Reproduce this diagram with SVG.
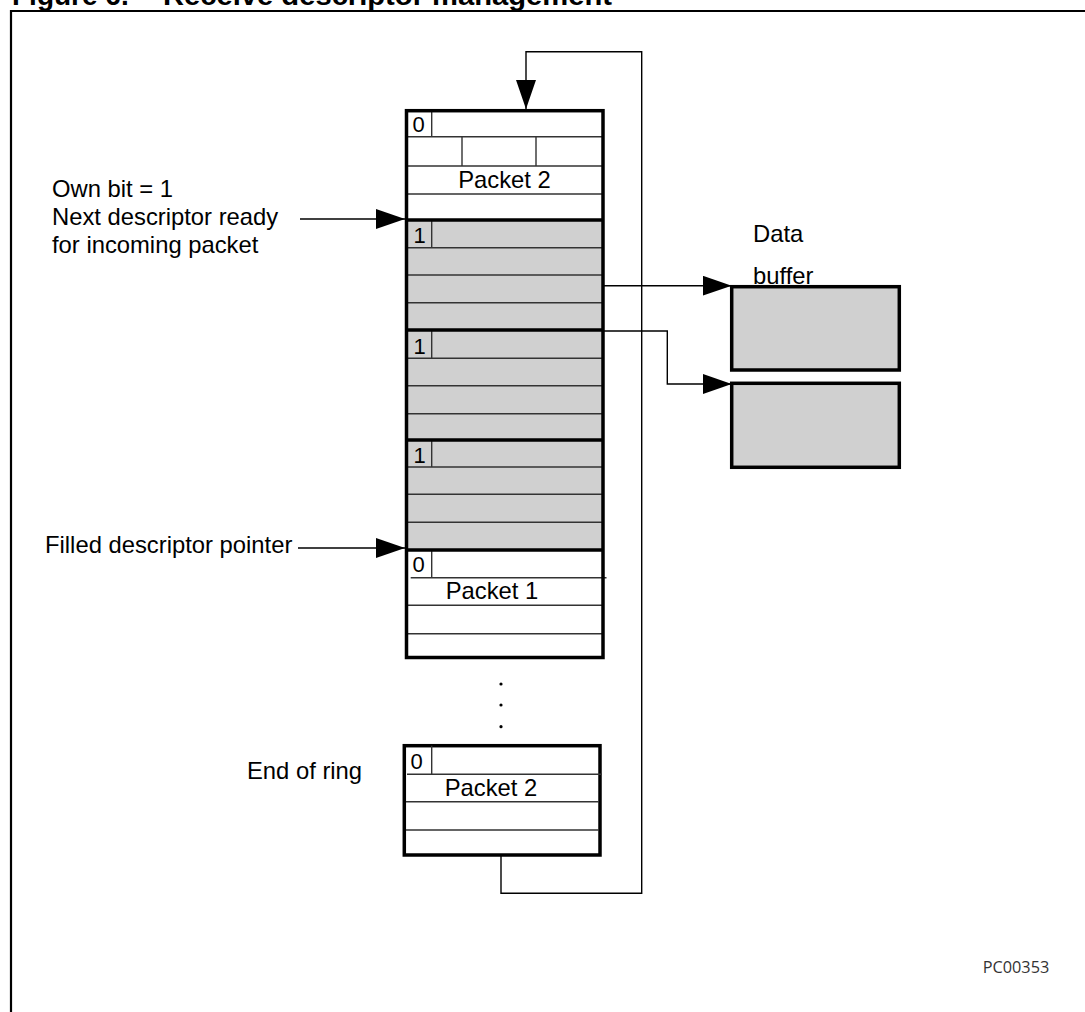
<svg xmlns="http://www.w3.org/2000/svg" width="1085" height="1012" viewBox="0 0 1085 1012">
<defs>
<marker id="arr" markerUnits="userSpaceOnUse" markerWidth="32" markerHeight="22" refX="29" refY="10" orient="auto">
<path d="M0,0 L29,10 L0,20 Z" fill="#000"/>
</marker>
<style>
.lbl{font-family:"Liberation Sans",Arial,sans-serif;font-size:23.8px;fill:#000}
.bit{font-family:"Liberation Sans",Arial,sans-serif;font-size:22px;fill:#000}
.row{stroke:#333;stroke-width:1.4;fill:none}
.sep{stroke:#000;stroke-width:3.5;fill:none}
.box{stroke:#000;stroke-width:3.5}
.gray{fill:#d0d0d0}
.white{fill:#fff}
.con{stroke:#000;stroke-width:1.4;fill:none}
.ttl{font-family:"Liberation Sans",Arial,sans-serif;font-size:28px;font-weight:bold;fill:#000}
</style>
</defs>
<rect width="1085" height="1012" fill="#fff"/>
<path d="M11,1012 V11 H1086" fill="none" stroke="#000" stroke-width="2.2"/>
<text class="ttl" x="12" y="5">Figure 6.</text>
<text class="ttl" x="163" y="5" textLength="449" lengthAdjust="spacingAndGlyphs">Receive descriptor management</text>

<g id="descriptor-1">
<rect x="406.5" y="110.7" width="196.5" height="109" class="white"/>
<path class="row" d="M406.5,136.7 H603 M406.5,166 H603 M406.5,194 H603 M431.7,110.7 V136.7 M462,136.7 V166 M536,136.7 V166"/>
<text class="bit" x="412.5" y="132.3">0</text>
<text class="lbl" x="504.5" y="188.3" text-anchor="middle">Packet 2</text>
</g>
<g id="descriptor-2">
<rect x="406.5" y="220" width="196.5" height="110" class="gray"/>
<path class="row" d="M406.5,247.7 H603 M406.5,275 H603 M406.5,302.7 H603 M431.7,220 V247.7"/>
<text class="bit" x="413.5" y="243.3">1</text>
</g>
<g id="descriptor-3">
<rect x="406.5" y="330" width="196.5" height="110" class="gray"/>
<path class="row" d="M406.5,358.3 H603 M406.5,385.7 H603 M406.5,413.7 H603 M431.7,330 V358.3"/>
<text class="bit" x="413.5" y="353.5">1</text>
</g>
<g id="descriptor-4">
<rect x="406.5" y="440" width="196.5" height="110" class="gray"/>
<path class="row" d="M406.5,467 H603 M406.5,494.3 H603 M406.5,522.3 H603 M431.7,440 V467"/>
<text class="bit" x="413.5" y="462.5">1</text>
</g>
<g id="descriptor-5">
<rect x="406.5" y="550" width="196.5" height="107.5" class="white"/>
<path class="row" d="M410.7,577.7 H606.5 M406.5,605.3 H603 M406.5,633.7 H603 M431.7,550 V577.7"/>
<text class="bit" x="412.5" y="571.7">0</text>
<text class="lbl" x="492" y="599.3" text-anchor="middle">Packet 1</text>
</g>
<g id="ring-outline">
<rect x="406.5" y="110.7" width="196.5" height="546.8" fill="none" class="box"/>
<path class="sep" d="M406.5,220 H603 M406.5,330 H603 M406.5,440 H603 M406.5,550 H603"/>
</g>
<g id="ellipsis">
<circle cx="501" cy="684" r="1.6"/>
<circle cx="501" cy="705" r="1.6"/>
<circle cx="501" cy="726.7" r="1.6"/>
</g>
<g id="descriptor-end">
<rect x="404.3" y="745.7" width="195.7" height="109.3" class="white box"/>
<path class="row" d="M407,774.3 H602 M406,801.7 H599 M406,830 H599 M431.7,745.7 V774.3"/>
<text class="bit" x="410.5" y="768.5">0</text>
<text class="lbl" x="491" y="796" text-anchor="middle">Packet 2</text>
</g>
<g id="buffer-1">
<rect x="731.7" y="286.7" width="167.6" height="83.3" class="gray box"/>
</g>
<g id="buffer-2">
<rect x="731.7" y="383.3" width="167.6" height="84" class="gray box"/>
</g>
<g id="labels">
<text class="lbl" x="753" y="242">Data</text>
<text class="lbl" x="753" y="284">buffer</text>
<text class="lbl" x="52" y="196.7">Own bit = 1</text>
<text class="lbl" x="52" y="225">Next descriptor ready</text>
<text class="lbl" x="52" y="253">for incoming packet</text>
<text class="lbl" x="45" y="553.3">Filled descriptor pointer</text>
<text class="lbl" x="247" y="779">End of ring</text>
<text x="982.7" y="973.3" font-family="'Open Sans','Noto Sans',sans-serif" font-size="16.3" fill="#333">PC00353</text>
</g>
<g id="connectors">
<path class="con" d="M501,855 V893.3 H641.7 V51.7 H526 V109" marker-end="url(#arr)"/>
<path class="con" d="M300,219 H405" marker-end="url(#arr)"/>
<path class="con" d="M298,548 H405" marker-end="url(#arr)"/>
<path class="con" d="M603,285.7 H731.7" marker-end="url(#arr)"/>
<path class="con" d="M603,331 H667.3 V384 H731.7" marker-end="url(#arr)"/>
</g>
</svg>
